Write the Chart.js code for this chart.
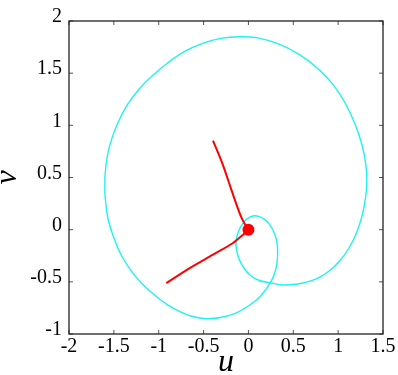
<!DOCTYPE html>
<html><head><meta charset="utf-8">
<script src="https://cdn.jsdelivr.net/npm/chart.js@4"></script>
<style>html,body{margin:0;padding:0;background:#fff}#wrap{width:398px;height:375px}</style>
</head><body><div id="wrap"><canvas id="c" width="398" height="375"></canvas></div>
<script>
// tick labels
const xTicks = [-2, -1.5, -1, -0.5, 0, 0.5, 1, 1.5];
const yTicks = [-1, -0.5, 0, 0.5, 1, 1.5, 2];

// cyan closed trajectory (u, v)
const cyanU = [-1.600, -1.598, -1.570, -1.520, -1.448, -1.347, -1.213, -1.068, -0.901, -0.711, -0.510, -0.309, -0.105, 0.104, 0.349, 0.573, 0.773, 0.941, 1.075, 1.186, 1.265, 1.309, 1.320, 1.304, 1.265, 1.203, 1.119, 1.019, 0.896, 0.751, 0.584, 0.405, 0.238, 0.115, 0.020, -0.052, -0.108, -0.136, -0.136, -0.114, -0.075, -0.019, 0.051, 0.115, 0.176, 0.232, 0.277, 0.308, 0.323, 0.325, 0.314, 0.282, 0.238, 0.171, 0.093, -0.008, -0.134, -0.298, -0.469, -0.633, -0.767, -0.901, -1.027, -1.157, -1.288, -1.414, -1.492, -1.567, -1.600];
const cyanV = [0.336, 0.528, 0.720, 0.880, 1.036, 1.200, 1.353, 1.478, 1.598, 1.708, 1.785, 1.833, 1.849, 1.838, 1.775, 1.675, 1.545, 1.392, 1.219, 1.017, 0.816, 0.624, 0.461, 0.298, 0.128, -0.034, -0.178, -0.298, -0.398, -0.475, -0.516, -0.530, -0.509, -0.485, -0.437, -0.365, -0.274, -0.173, -0.096, -0.024, 0.043, 0.101, 0.131, 0.127, 0.101, 0.053, -0.010, -0.082, -0.158, -0.240, -0.345, -0.441, -0.518, -0.600, -0.672, -0.734, -0.797, -0.840, -0.854, -0.830, -0.784, -0.720, -0.640, -0.542, -0.416, -0.250, -0.096, 0.112, 0.336];

// red trajectory (two branches meeting at the fixed point)
const redU = [-0.395, -0.292, -0.198, -0.125, -0.075, -0.036, 0, -0.060, -0.172, -0.395, -0.655, -0.915];
const redV = [0.854, 0.638, 0.403, 0.221, 0.110, 0.048, 0, -0.048, -0.128, -0.240, -0.368, -0.512];

// red fixed point
const dotU = [0];
const dotV = [0];

const toPts = (us, vs) => us.map((u, i) => ({x: u, y: vs[i]}));

const framePlugin = {
  id: 'frame',
  afterDatasetsDraw(chart) {
    const {ctx, chartArea: a, scales: {x, y}} = chart;
    ctx.save();
    ctx.strokeStyle = '#555';
    ctx.lineWidth = 1;
    ctx.beginPath();
    for (const t of xTicks) {
      const p = x.getPixelForValue(t);
      ctx.moveTo(p, a.bottom); ctx.lineTo(p, a.bottom - 4);
      ctx.moveTo(p, a.top); ctx.lineTo(p, a.top + 4);
    }
    for (const t of yTicks) {
      const p = y.getPixelForValue(t);
      ctx.moveTo(a.left, p); ctx.lineTo(a.left + 4, p);
      ctx.moveTo(a.right, p); ctx.lineTo(a.right - 4, p);
    }
    ctx.stroke();
    ctx.strokeStyle = '#222';
    ctx.lineWidth = 1.3;
    ctx.strokeRect(a.left, a.top, a.right - a.left, a.bottom - a.top);
    ctx.restore();
  }
};

const serif = '"Liberation Serif", "Times New Roman", serif';
Chart.defaults.font.family = serif;
Chart.defaults.color = '#000';

new Chart(document.getElementById('c'), {
  type: 'line',
  data: {
    datasets: [
      {data: toPts(dotU, dotV), pointRadius: 6, pointBackgroundColor: '#ff0000', pointBorderWidth: 0, showLine: false},
      {data: toPts(redU, redV), borderColor: '#ff0000', borderWidth: 2, pointRadius: 0, tension: 0.3, fill: false},
      {data: toPts(cyanU, cyanV), borderColor: '#1ef2f2', borderWidth: 1.4, pointRadius: 0, tension: 0.4, fill: false}
    ]
  },
  options: {
    responsive: false,
    animation: false,
    layout: {padding: {left: 0, right: 15, top: 21, bottom: 0}},
    plugins: {legend: {display: false}, tooltip: {enabled: false}},
    scales: {
      x: {
        type: 'linear', min: -2, max: 1.5,
        afterBuildTicks: s => { s.ticks = xTicks.map(v => ({value: v})); },
        afterFit: s => { s.height = 41; },
        grid: {display: false, drawTicks: false},
        border: {display: false},
        ticks: {padding: 1, color: '#000', font: {family: serif, size: 20}, maxRotation: 0, autoSkip: false, callback: v => String(v)},
        title: {display: true, text: 'u', color: '#000', padding: 0, font: {family: serif, size: 32, style: 'italic', lineHeight: 0.8}}
      },
      y: {
        type: 'linear', min: -1, max: 2,
        afterBuildTicks: s => { s.ticks = yTicks.map(v => ({value: v})); },
        afterFit: s => { s.width = 69; },
        grid: {display: false, drawTicks: false},
        border: {display: false},
        ticks: {padding: 7, labelOffset: -4, color: '#000', font: {family: serif, size: 20}, autoSkip: false, callback: v => String(v)},
        title: {display: true, text: 'ν', color: '#000', padding: 0, font: {family: serif, size: 32, style: 'italic', lineHeight: 0.5}}
      }
    }
  },
  plugins: [framePlugin]
});
</script>
</body></html>
